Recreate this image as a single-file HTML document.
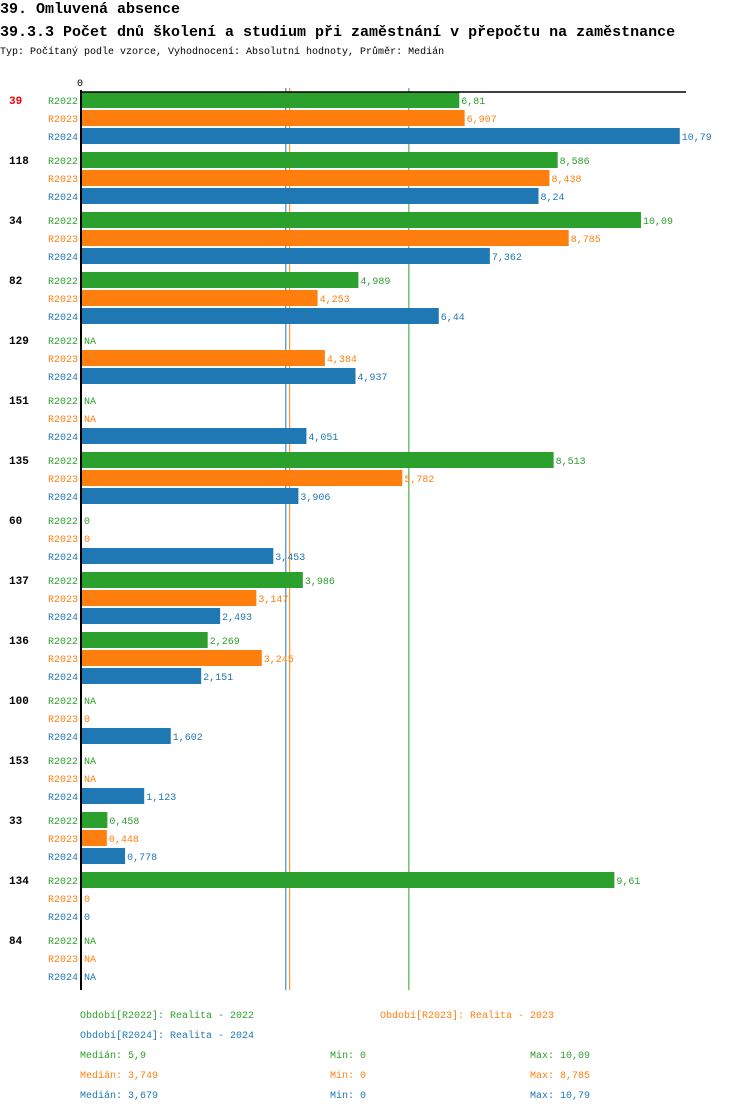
<!DOCTYPE html>
<html><head><meta charset="utf-8">
<style>
body{margin:0;background:#fff;width:750px;height:1112px;overflow:hidden}
svg text{font-family:"Liberation Mono","DejaVu Sans Mono",monospace}
</style></head>
<body>
<svg id="c" width="750" height="1112" xmlns="http://www.w3.org/2000/svg">
<text x="0" y="13" font-size="15" font-weight="bold" fill="#000">39. Omluvená absence</text>
<text x="0" y="36" font-size="15" font-weight="bold" fill="#000">39.3.3 Počet dnů školení a studium při zaměstnání v přepočtu na zaměstnance</text>
<text x="0" y="54" font-size="10" fill="#000">Typ: Počítaný podle vzorce, Vyhodnocení: Absolutní hodnoty, Průměr: Medián</text>
<g id="plot"></g>
<g id="legend"></g>
</svg>
<script>
const categories=["39","118","34","82","129","151","135","60","137","136","100","153","33","134","84"];
const series=["R2022","R2023","R2024"];
const r2022=[6.81,8.586,10.09,4.989,null,null,8.513,0,3.986,2.269,null,null,0.458,9.61,null];
const r2023=[6.907,8.438,8.785,4.253,4.384,null,5.782,0,3.147,3.245,0,null,0.448,0,null];
const r2024=[10.79,8.24,7.362,6.44,4.937,4.051,3.906,3.453,2.493,2.151,1.602,1.123,0.778,0,null];
const medians=[5.9,3.749,3.679];
const mins=[0,0,0];
const maxs=[10.09,8.785,10.79];
const periodNames=["Realita - 2022","Realita - 2023","Realita - 2024"];
const colors=["#2ca02c","#ff7f0e","#1f77b4"];
const values=[r2022,r2023,r2024];
const NS="http://www.w3.org/2000/svg";
const x0=82, scale=55.4, y0=100, groupH=60, rowH=18;
const xs=v=>x0+v*scale;
const ys=(g,s)=>y0+g*groupH+s*rowH;
const fmt=v=>String(v).replace('.',',');
const plot=document.getElementById('plot');
function mk(tag,attrs,parent){const e=document.createElementNS(NS,tag);for(const k in attrs)e.setAttribute(k,attrs[k]);parent.appendChild(e);return e;}
const bottom=ys(categories.length-1,2)+14;
medians.forEach((m,i)=>{
 const l=mk('line',{x1:xs(m),x2:xs(m),y1:88,y2:bottom,stroke:colors[i],'stroke-width':1},plot);
 
 
});
categories.forEach((c,g)=>{
 const t=mk('text',{x:9,y:ys(g,0)+4,'font-size':11,'font-weight':'bold',fill:g===0?'#e00':'#000'},plot);
 t.textContent=c;
 
 
 series.forEach((s,i)=>{
  const y=ys(g,i);
  const lab=mk('text',{x:78,y:y+4,'font-size':10,fill:colors[i],'text-anchor':'end'},plot);
  lab.textContent=s;
  
  
  const v=values[i][g];
  let endX=x0;
  if(v!==null&&v>0){
   const r=mk('rect',{x:x0,y:y-8,width:xs(v)-x0,height:16,fill:colors[i]},plot);
   
   
   endX=xs(v);
  }
  const vt=mk('text',{x:endX+2,y:y+4,'font-size':10,fill:colors[i]},plot);
  vt.textContent=v===null?'NA':fmt(v);
  
  
 });
});
const ax=mk('line',{x1:81,x2:81,y1:90,y2:bottom,stroke:'#000','stroke-width':2},plot);


const tx=mk('line',{x1:80,x2:686,y1:92,y2:92,stroke:'#000','stroke-width':1.5},plot);


const z=mk('text',{x:80,y:86,'font-size':10,fill:'#000','text-anchor':'middle'},plot);
z.textContent='0';


const lg=document.getElementById('legend');
const lpos=[[80,1018],[380,1018],[80,1038]];
series.forEach((s,i)=>{
 const t=mk('text',{x:lpos[i][0],y:lpos[i][1],'font-size':10,fill:colors[i]},lg);
 t.textContent='Období['+s+']: '+periodNames[i];
 
 
 const y=1058+i*20;
 const a=mk('text',{x:80,y:y,'font-size':10,fill:colors[i]},lg);
 a.textContent='Medián: '+fmt(medians[i]);
 
 
 const b=mk('text',{x:330,y:y,'font-size':10,fill:colors[i]},lg);
 b.textContent='Min: '+fmt(mins[i]);
 
 
 const d=mk('text',{x:530,y:y,'font-size':10,fill:colors[i]},lg);
 d.textContent='Max: '+fmt(maxs[i]);
 
 
});
</script>
</body></html>
